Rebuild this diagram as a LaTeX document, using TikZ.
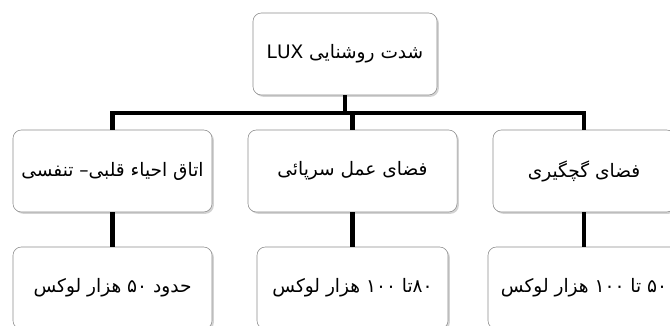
\documentclass[tikz,border=0pt]{standalone}
\usepackage{fontspec}
\newfontfamily\farsi[Script=Arabic]{DejaVu Sans}
\TeXXeTstate=1
\usetikzlibrary{shadows}
\newcommand{\fa}[1]{{\farsi\beginR #1\endR}}

\begin{document}
\begin{tikzpicture}[x=0.025cm, y=-0.025cm,
  box/.style={draw=black!45, fill=white, rounded corners=6pt, minimum height=2.05cm, font=\farsi\fontsize{13.2}{15}\selectfont, inner sep=2pt,
    drop shadow={shadow xshift=1.3pt, shadow yshift=-1.3pt, opacity=0.35}},
  link/.style={line width=3.2pt}]
  \clip (0,0) rectangle (670,326);
  \node[box, minimum width=4.6cm]   (lux)    at (345,54)    {\fa{شدت روشنایی LUX}};
  \node[box, minimum width=4.975cm] (cpr)    at (112.5,171) {\fa{اتاق احیاء قلبی– تنفسی}};
  \node[box, minimum width=5.225cm] (outpt)  at (352.5,171) {\fa{فضای عمل سرپائی}};
  \node[box, minimum width=4.55cm]  (cast)   at (584,171)   {\fa{فضای گچگیری}};
  \node[box, minimum width=4.975cm] (cprv)   at (112.5,288) {\fa{حدود ۵۰ هزار لوکس}};
  \node[box, minimum width=4.775cm] (outptv) at (352.5,288) {\fa{۸۰تا ۱۰۰ هزار لوکس}};
  \node[box, minimum width=4.8cm]   (castv)  at (584,288)   {\fa{۵۰ تا ۱۰۰ هزار لوکس}};
  \coordinate (bar) at (345,113);
  \draw[link] (lux) -- (bar);
  \draw[link] (bar) -| (cpr.north);
  \draw[link] (bar) -| (outpt.north);
  \draw[link] (bar) -| (cast.north);
  \draw[link] (cpr) -- (cprv);
  \draw[link] (outpt) -- (outptv);
  \draw[link] (cast) -- (castv);
\end{tikzpicture}
\end{document}
